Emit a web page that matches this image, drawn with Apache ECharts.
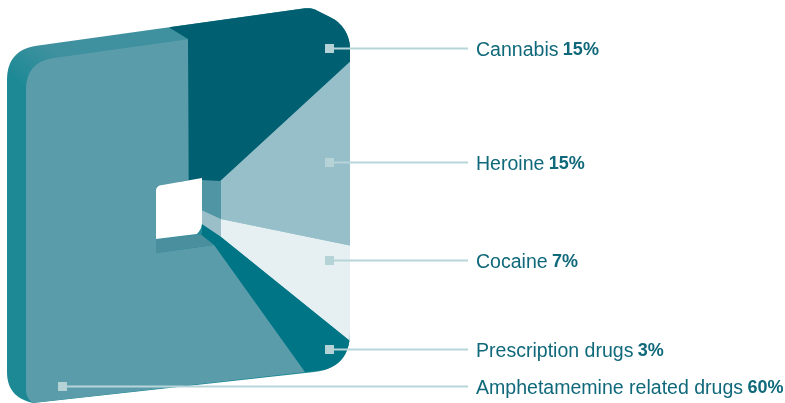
<!DOCTYPE html>
<html><head><meta charset="utf-8">
<style>html,body{margin:0;padding:0;background:#fff}#c{width:785px;height:403px}</style>
<script src="https://cdn.jsdelivr.net/npm/echarts@6/dist/echarts.min.js"></script>
</head><body><div id="c"></div>
<script>
// ---- data ----
const categories = ['Cannabis','Heroine','Cocaine','Prescription drugs','Amphetamemine related drugs'];
const shares = [15,15,7,3,60];

// ---- styling / drawing calibration (the original is hand-drawn, so edges drift a little from the exact share) ----
const faceColors = ['#005f70','#97bfca','#e6eff1','#007585','#5b9cab'];
const wallColors = ['#005f70','#4f95a3','#9abfc9','#007585','#4a8f9e'];
const outerDrift = [0.5,-0.85,-0.75,1.55,0];
const innerDrift = [-2.5,-2.5,-2.5,0,0];
const labelAnchors = [[329.5,48.5],[329.5,162.5],[329.5,260.5],[329.5,349.5],[62.5,386.5]];
const labelX = 476, leaderEnd = 468;
const labelColor = '#10697a', leaderColor = '#b7d5d9';

const outerFrame = [[26,61.4],[350,16.6],[350,366.9],[26,403.8]];
const innerFrame = [[156,190],[221,181],[221,244],[156,253]];
const backFrame  = [[156,186],[202,178],[202,234],[156,239]];
const depth = [-18,-11];
const silhouette = [[7,50,30],[311,7.5,6],[346,25,18],[350,45,4],[350,368,36],[33,403,0],[7,396,24]];
const faceOutline = [[26,62,28],[350,16.6,0],[350,368,36],[33,403,0],[26,397,7]];
const holeOutline = [[156,186,5],[202,178,0],[202,228,6],[197,234,0],[156,239,0]];

// cumulative edges
const cum = [0]; shares.forEach(v => cum.push(cum[cum.length-1]+v));
const edge = (drift,i) => i===0 ? 0 : (i>=shares.length ? 100 : cum[i]+drift[i-1]);

function rounded(list){
  const out=[], n=list.length;
  for(let i=0;i<n;i++){
    const p=list[i], a=list[(i+n-1)%n], b=list[(i+1)%n], r=p[2]||0;
    if(!r){out.push([p[0],p[1]]);continue;}
    const la=Math.hypot(a[0]-p[0],a[1]-p[1]), lb=Math.hypot(b[0]-p[0],b[1]-p[1]);
    const s=[p[0]+(a[0]-p[0])*r/la,p[1]+(a[1]-p[1])*r/la], e=[p[0]+(b[0]-p[0])*r/lb,p[1]+(b[1]-p[1])*r/lb];
    for(let k=0;k<=14;k++){const t=k/14,u=1-t;out.push([u*u*s[0]+2*u*t*p[0]+t*t*e[0],u*u*s[1]+2*u*t*p[1]+t*t*e[1]]);}
  }
  return out;
}
// walks a frame clockwise from the middle of its top edge; share in percent of its perimeter
function frameWalk(f){
  const mid=[(f[0][0]+f[1][0])/2,(f[0][1]+f[1][1])/2];
  const pts=[mid,f[1],f[2],f[3],f[0],mid], len=[0];
  for(let i=1;i<pts.length;i++)len.push(len[i-1]+Math.hypot(pts[i][0]-pts[i-1][0],pts[i][1]-pts[i-1][1]));
  const total=len[len.length-1];
  const at=s=>{const d=s/100*total;let i=1;while(i<pts.length-1&&len[i]<d)i++;
    const t=(d-len[i-1])/(len[i]-len[i-1]);return [pts[i-1][0]+(pts[i][0]-pts[i-1][0])*t,pts[i-1][1]+(pts[i][1]-pts[i-1][1])*t];};
  const range=(s0,s1)=>{const r=[at(s0)];for(let i=1;i<pts.length-1;i++){const c=len[i]/total*100;if(c>s0&&c<s1)r.push(pts[i]);}r.push(at(s1));return r;};
  return {at,range};
}
const outerW=frameWalk(outerFrame), innerW=frameWalk(innerFrame), backW=frameWalk(backFrame);
const silPts=rounded(silhouette), facePts=rounded(faceOutline), holePts=rounded(holeOutline);

const indexData = categories.map((c,i)=>({name:c,value:[i,shares[i]]}));
const toPx=(api,list)=>list.map(p=>api.coord(p));

const chart=echarts.init(document.getElementById('c'),null,{renderer:'canvas'});
chart.setOption({
  animation:false,
  backgroundColor:'#fff',
  grid:{left:0,right:0,top:0,bottom:0},
  xAxis:{type:'value',min:0,max:785,show:false},
  yAxis:{type:'value',min:0,max:403,inverse:true,show:false},
  series:[
    {type:'custom',name:'depth',coordinateSystem:'cartesian2d',silent:true,clip:false,data:[[0,0]],z:1,
     renderItem(params,api){
       const a=api.coord([15,80]),b=api.coord([45,45]);
       return {type:'polygon',shape:{points:toPx(api,silPts)},style:{fill:{type:'linear',global:true,x:a[0],y:a[1],x2:b[0],y2:b[1],
         colorStops:[{offset:0,color:'#1d8995'},{offset:1,color:'#3f919f'}]}}};
     }},
    {type:'custom',name:'faces',coordinateSystem:'cartesian2d',silent:true,clip:false,data:indexData,z:2,
     renderItem(params,api){
       const i=api.value(0), last=i===categories.length-1;
       const oPts=outerW.range(edge(outerDrift,i),edge(outerDrift,i+1));
       const iPts=innerW.range(edge(innerDrift,i),edge(innerDrift,i+1)).reverse();
       const clip={type:'polygon',shape:{points:toPx(api,last?facePts:silPts)}};
       const children=[{type:'polygon',shape:{points:toPx(api,oPts.concat(iPts))},style:{fill:faceColors[i]},clipPath:clip}];
       if(i===0){
         const p0=oPts[0], tr=outerFrame[1], d0=[p0[0]+depth[0],p0[1]+depth[1]];
         children.unshift({type:'polygon',shape:{points:toPx(api,[[p0[0],p0[1]+2],p0,d0,[d0[0],d0[1]-60],[tr[0],d0[1]-60],[tr[0],tr[1]+2]])},style:{fill:faceColors[0]},
           clipPath:{type:'polygon',shape:{points:toPx(api,silPts)}}});
       }
       return {type:'group',children};
     }},
    {type:'custom',name:'walls',coordinateSystem:'cartesian2d',silent:true,clip:false,data:indexData,z:3,
     renderItem(params,api){
       const i=api.value(0);
       const s0=edge(innerDrift,i),s1=edge(innerDrift,i+1);
       const pts=backW.range(s0,s1).concat(innerW.range(s0,s1).reverse());
       return {type:'polygon',shape:{points:toPx(api,pts)},style:{fill:wallColors[i]}};
     }},
    {type:'custom',name:'hole',coordinateSystem:'cartesian2d',silent:true,clip:false,data:[[0,0]],z:4,
     renderItem(params,api){return {type:'polygon',shape:{points:toPx(api,holePts)},style:{fill:'#fff'}};}},
    {type:'custom',name:'labels',coordinateSystem:'cartesian2d',silent:true,clip:false,data:indexData,z:5,
     renderItem(params,api){
       const i=api.value(0), a=labelAnchors[i];
       const p=api.coord(a), e=api.coord([leaderEnd,a[1]]), t=api.coord([labelX,a[1]+2]);
       return {type:'group',children:[
         {type:'line',shape:{x1:p[0],y1:p[1],x2:e[0],y2:e[1]},style:{stroke:leaderColor,lineWidth:2}},
         {type:'rect',shape:{x:p[0]-4.5,y:p[1]-4.5,width:9,height:9},style:{fill:'#b5d2d6'}},
         {type:'text',x:t[0],y:t[1],style:{
            text:'{n|'+categories[i]+'} {v|'+api.value(1)+'%}',
            verticalAlign:'middle',align:'left',
            rich:{n:{fontFamily:'Liberation Sans',fontSize:19.55,fill:labelColor,color:labelColor},
                  v:{fontFamily:'Liberation Sans',fontSize:18,fontWeight:'bold',fill:labelColor,color:labelColor,padding:[0,0,0,1]}}}}
       ]};
     }}
  ]
});
</script></body></html>
